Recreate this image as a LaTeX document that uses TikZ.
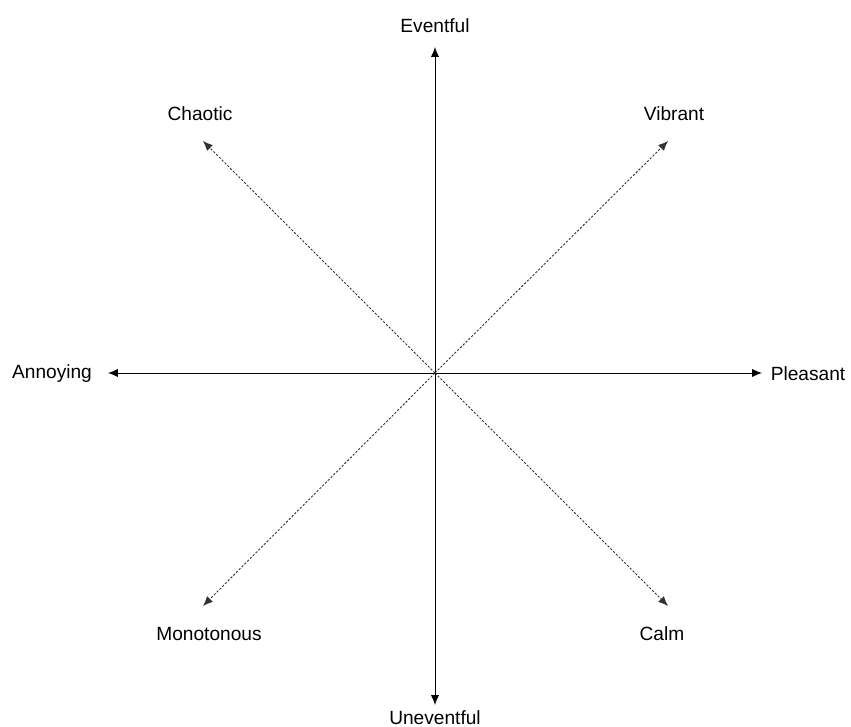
\documentclass[tikz,border=0pt]{standalone}
\usepackage{fontspec}
\setmainfont{Liberation Sans}
\usetikzlibrary{arrows.meta}
\begin{document}
\begin{tikzpicture}[x=0.025cm,y=-0.025cm]
 % definition des styles
  \tikzstyle{etiq}=[font=\fontsize{13.6}{16}\selectfont,inner sep=0pt]
  \tikzstyle{axe}=[-{Latex[length=7pt,width=5.8pt]},line width=0.65pt]
  \tikzstyle{diag}=[-{Latex[length=7pt,width=5.8pt]},line width=0.65pt,dash pattern=on 1.6pt off 1.2pt,black!80]
  \useasboundingbox (0,0) rectangle (851,727);
 % le centre et les pointes
  \coordinate (O) at (435,373);
  \coordinate (tN) at (435,47);  \coordinate (tS) at (435,705);
  \coordinate (tW) at (108,373); \coordinate (tE) at (762,373);
  \coordinate (tNW) at (203,141); \coordinate (tNE) at (668,141);
  \coordinate (tSW) at (203,606); \coordinate (tSE) at (668,606);
 % les etiquettes
  \node[etiq] (E) at (435,26) {Eventful};
  \node[etiq] (U) at (435,718) {Uneventful};
  \node[etiq] (A) at (52,374) {Annoying};
  \node[etiq] (P) at (808,374) {Pleasant};
  \node[etiq] (Ch) at (200,114) {Chaotic};
  \node[etiq] (V) at (674,114) {Vibrant};
  \node[etiq] (M) at (209,634) {Monotonous};
  \node[etiq] (Ca) at (662,634) {Calm};
 % les fleches
  \draw[axe] (O)--(tN);  \draw[axe] (O)--(tS);
  \draw[axe] (O)--(tW);  \draw[axe] (O)--(tE);
  \draw[diag] (O)--(tNW); \draw[diag] (O)--(tNE);
  \draw[diag] (O)--(tSW); \draw[diag] (O)--(tSE);
\end{tikzpicture}
\end{document}
